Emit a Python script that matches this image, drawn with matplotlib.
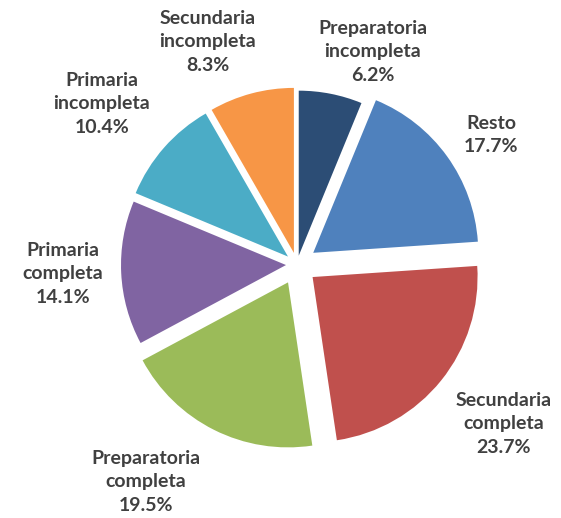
import matplotlib
matplotlib.use("Agg")
import matplotlib.pyplot as plt

categories = ["Preparatoria\nincompleta", "Resto", "Secundaria\ncompleta",
              "Preparatoria\ncompleta", "Primaria\ncompleta",
              "Primaria\nincompleta", "Secundaria\nincompleta"]
values = [6.2, 17.7, 23.7, 19.5, 14.1, 10.4, 8.3]
colors = ["#2C4D75", "#4F81BD", "#C0504D", "#9BBB59", "#8064A2", "#4BACC6", "#F79646"]
explode_px = [9, 20, 20, 20, 11, 12, 12]

W, H = 561, 518
R = 165
cx, cy = 297, H - 264.5
label_pos = [(373, 52), (491, 135), (504, 424), (146, 482), (63, 274), (102, 104), (208, 42)]

fig = plt.figure(figsize=(W / 100, H / 100), dpi=100)
ax = fig.add_axes([0, 0, 1, 1])
ax.pie(values, colors=colors, startangle=90, counterclock=False,
       explode=explode_px, radius=R, center=(cx, cy),
       wedgeprops=dict(linewidth=0))
ax.set_xlim(0, W)
ax.set_ylim(0, H)
ax.set_aspect("equal")
ax.axis("off")

for cat, v, (x, y) in zip(categories, values, label_pos):
    ax.text(x, H - y, f"{cat}\n{v:.1f}%", ha="center", va="center",
            fontsize=14, fontweight="bold", family=["Lato", "DejaVu Sans"],
            color="#404040", linespacing=1.45)

fig.savefig("out.png", dpi=100)
